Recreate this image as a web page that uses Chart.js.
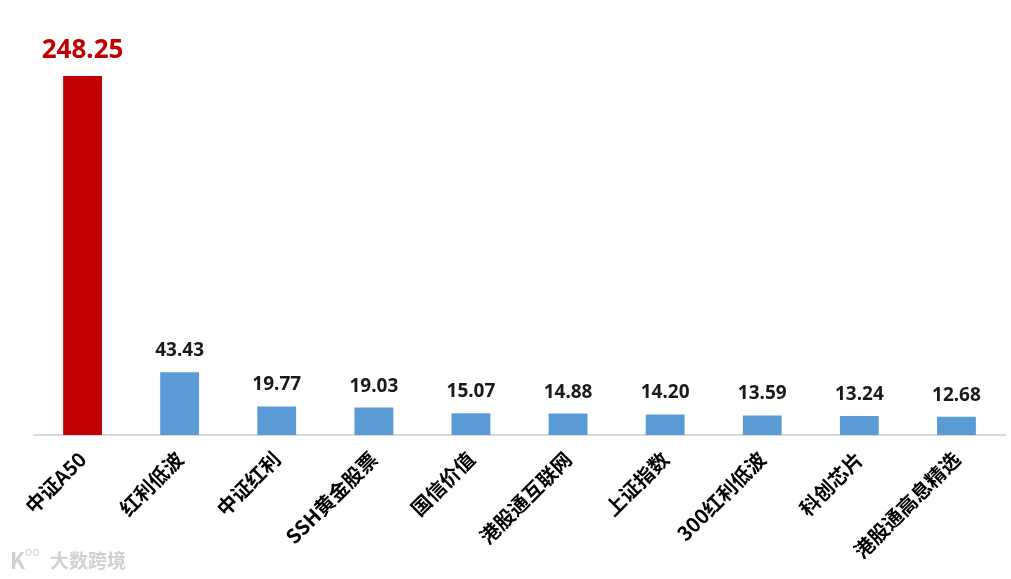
<!DOCTYPE html>
<html>
<head>
<meta charset="utf-8">
<script src="https://cdn.jsdelivr.net/npm/chart.js@4.4.1/dist/chart.umd.min.js"></script>
<style>
  html, body { margin: 0; padding: 0; background: #fff; }
  #wrap { width: 1011px; height: 579px; position: relative; }
</style>
</head>
<body>
<div id="wrap"><canvas id="barChart"></canvas></div>
<script>
const categories = ['中证A50', '红利低波', '中证红利', 'SSH黄金股票', '国信价值', '港股通互联网', '上证指数', '300红利低波', '科创芯片', '港股通高息精选'];
const values = [248.25, 43.43, 19.77, 19.03, 15.07, 14.88, 14.20, 13.59, 13.24, 12.68];
const highlightIndex = 0;

const RED = '#C00000';
const BLUE = '#5B9BD5';

const barColors = values.map((v, i) => (i === highlightIndex ? RED : BLUE));

// value labels above each bar
const valueLabels = {
  id: 'valueLabels',
  afterDatasetsDraw(chart) {
    const ctx = chart.ctx;
    const meta = chart.getDatasetMeta(0);
    ctx.save();
    ctx.textAlign = 'center';
    ctx.textBaseline = 'alphabetic';
    meta.data.forEach((bar, i) => {
      const big = i === highlightIndex;
      ctx.font = (big ? 'bold 26px' : 'bold 19px') + ' "Noto Sans", "Noto Sans CJK SC", sans-serif';
      ctx.fillStyle = big ? RED : '#1a1a1a';
      ctx.fillText(values[i].toFixed(2), bar.x, bar.y - (big ? 18 : 16));
    });
    ctx.restore();
  },
};

// faint watermark bottom-left
const watermark = {
  id: 'watermark',
  afterDraw(chart) {
    const ctx = chart.ctx;
    ctx.save();
    ctx.font = 'bold 22px "Noto Sans CJK SC", sans-serif';
    ctx.fillStyle = 'rgba(200,200,200,0.85)';
    ctx.textBaseline = 'middle';
    ctx.fillText('K', 10, 561);
    ctx.font = '12px "Noto Sans", sans-serif';
    ctx.fillText('oo', 25, 553);
    ctx.font = 'bold 19px "Noto Sans CJK SC", sans-serif';
    ctx.fillText('大数跨境', 50, 561);
    ctx.restore();
  },
};

new Chart(document.getElementById('barChart'), {
  type: 'bar',
  data: {
    labels: categories,
    datasets: [
      {
        data: values,
        backgroundColor: barColors,
        borderWidth: 0,
        categoryPercentage: 1,
        barPercentage: 0.4,
      },
    ],
  },
  options: {
    responsive: true,
    maintainAspectRatio: false,
    animation: false,
    layout: { padding: { top: 30, left: 34, right: 6, bottom: 12 } },
    plugins: {
      legend: { display: false },
      tooltip: { enabled: false },
    },
    scales: {
      x: {
        grid: { display: false },
        border: { color: '#d9d9d9', width: 2 },
        ticks: {
          maxRotation: 45,
          minRotation: 45,
          color: '#000',
          padding: 4,
          font: { family: '"Noto Sans CJK SC", sans-serif', size: 20, weight: 'bold' },
        },
      },
      y: {
        display: false,
        min: 0,
        max: 280,
      },
    },
  },
  plugins: [valueLabels, watermark],
});
</script>
</body>
</html>
